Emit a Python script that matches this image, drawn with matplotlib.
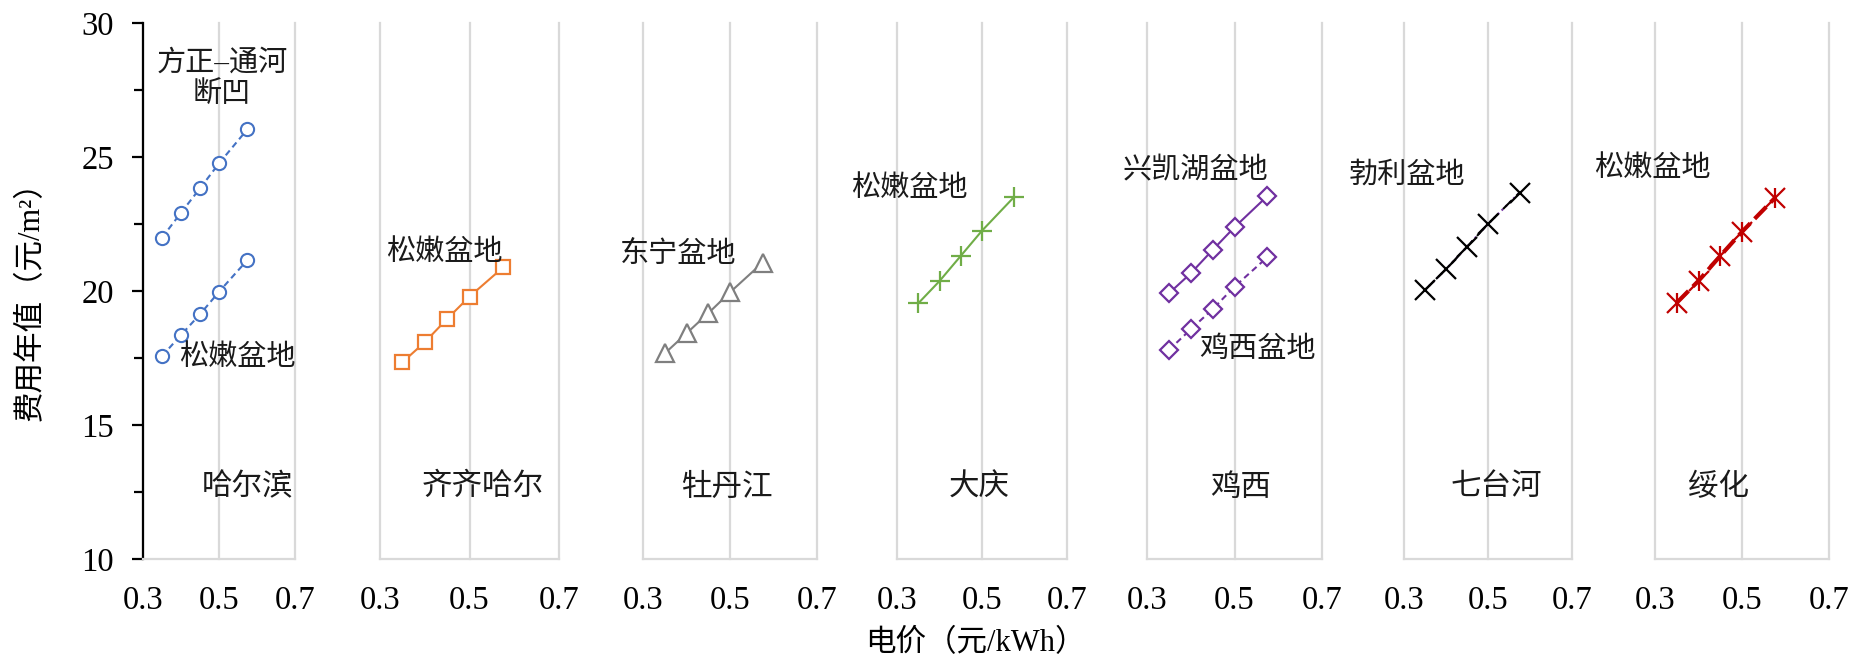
import numpy as np
import matplotlib
matplotlib.use("Agg")
import matplotlib.pyplot as plt

# ============================================================
# DONNÉES
# ============================================================

price = [0.35, 0.40, 0.45, 0.50, 0.575]

harbin_fangzheng = [21.99, 22.92, 23.83, 24.76, 26.04]
harbin_songnen = [17.57, 18.36, 19.13, 19.97, 21.16]
qiqihar_songnen = [17.34, 18.09, 18.96, 19.79, 20.88]
mudanjiang_dongning = [17.67, 18.42, 19.17, 19.95, 21.06]
daqing_songnen = [19.54, 20.37, 21.31, 22.25, 23.50]
jixi_xingkaihu = [19.91, 20.66, 21.53, 22.38, 23.54]
jixi_jixi = [17.80, 18.57, 19.32, 20.16, 21.26]
qitaihe_boli = [20.04, 20.81, 21.65, 22.50, 23.67]
suihua_songnen = [19.56, 20.38, 21.31, 22.21, 23.46]

cities = ["哈尔滨", "齐齐哈尔", "牡丹江", "大庆", "鸡西", "七台河", "绥化"]
x_ticks = [0.3, 0.5, 0.7]
y_ticks = [10, 15, 20, 25, 30]

# ============================================================
# MISE EN PAGE
# ============================================================

W, H = 1872, 660
FONT = ["Liberation Serif", "Noto Sans CJK SC"]
FS = 22
TICK_FS = 23.5
CJK_W = 300
GRID = "#d9d9d9"

# bords des panneaux en pixels (gauche, droite)
panel_px = [(143, 295), (380, 559), (643, 817), (897, 1067),
            (1147, 1322), (1404, 1572), (1655, 1829)]
top_px, bottom_px = 23, 559

# position x du nom de ville (en unités de données)
city_x = [0.574, 0.530, 0.493, 0.493, 0.513, 0.519, 0.447]
city_y = 12.65

plt.rcParams["font.family"] = FONT
plt.rcParams["font.size"] = FS

fig = plt.figure(figsize=(W / 100, H / 100), dpi=100)
axes = []
for (l, r) in panel_px:
    ax = fig.add_axes([l / W, 1 - bottom_px / H, (r - l) / W, (bottom_px - top_px) / H])
    ax.set_xlim(0.3, 0.7)
    ax.set_ylim(10, 30)
    ax.set_xticks(x_ticks)
    ax.set_xticklabels([f"{v:.1f}" for v in x_ticks])
    ax.tick_params(axis="x", length=0, pad=19, labelsize=TICK_FS)
    for s in ["top", "right"]:
        ax.spines[s].set_visible(False)
    ax.spines["bottom"].set_color(GRID)
    ax.spines["bottom"].set_linewidth(1.6)
    for xv in x_ticks:
        ax.axvline(xv, color=GRID, lw=1.6, zorder=0, clip_on=False)
    ax.set_facecolor("none")
    axes.append(ax)

# axe y seulement sur le premier panneau
ax0 = axes[0]
ax0.spines["left"].set_color("black")
ax0.spines["left"].set_linewidth(1.6)
ax0.set_yticks(y_ticks)
ax0.set_yticks([12.5, 17.5, 22.5, 27.5], minor=True)
ax0.tick_params(axis="y", which="major", length=8, width=1.6, pad=13,
                direction="out", labelsize=TICK_FS)
ax0.tick_params(axis="y", which="minor", length=6.5, width=1.6, direction="out")
for ax in axes[1:]:
    ax.spines["left"].set_visible(False)
    ax.tick_params(axis="y", left=False, labelleft=False)

hollow = dict(markerfacecolor="white", clip_on=False)

# Harbin
blue = "#4472c4"
for ys in [harbin_fangzheng, harbin_songnen]:
    axes[0].plot(price, ys, color=blue, lw=1.5, ls=(0, (3, 2)), marker="o",
                 ms=9.5, mew=1.5, **hollow)
# Qiqihar
axes[1].plot(price, qiqihar_songnen, color="#ed7d31", lw=1.5, marker="s",
             ms=10, mew=1.6, **hollow)
# Mudanjiang
axes[2].plot(price, mudanjiang_dongning, color="#7f7f7f", lw=1.5, marker="^",
             ms=13, mew=1.6, **hollow)
# Daqing
axes[3].plot(price, daqing_songnen, color="#70ad47", lw=1.5, marker="+",
             ms=14, mew=1.6, clip_on=False)
# Jixi
purple = "#7030a0"
axes[4].plot(price, jixi_xingkaihu, color=purple, lw=1.5, marker="D",
             ms=9, mew=1.6, **hollow)
axes[4].plot(price, jixi_jixi, color=purple, lw=1.5, ls=(0, (3, 2)), marker="D",
             ms=9, mew=1.6, **hollow)
# Qitaihe
axes[5].plot(price, qitaihe_boli, color=purple, lw=1.5, ls=":", clip_on=False)
axes[5].plot(price, qitaihe_boli, color="black", lw=1.5, ls=(0, (6, 3)),
             marker="x", ms=14, mew=1.6, clip_on=False)
# Suihua
red = "#c00000"
axes[6].plot(price, suihua_songnen, color=red, lw=3, ls=(0, (4, 1.5)),
             marker="x", ms=14, mew=1.6, clip_on=False)
axes[6].plot(price, suihua_songnen, ls="none", color=red, marker="|",
             ms=15, mew=1.6, clip_on=False)

# annotations des bassins
basin_notes = [
    (0, "方正–通河\n断凹", 0.508, 27.9),
    (0, "松嫩盆地", 0.549, 17.5),
    (1, "松嫩盆地", 0.443, 21.42),
    (2, "东宁盆地", 0.380, 21.38),
    (3, "松嫩盆地", 0.328, 23.81),
    (4, "兴凯湖盆地", 0.410, 24.48),
    (4, "鸡西盆地", 0.553, 17.8),
    (5, "勃利盆地", 0.307, 24.33),
    (6, "松嫩盆地", 0.293, 24.55),
]
for i, txt, xx, yy in basin_notes:
    axes[i].text(xx, yy, txt, ha="center", va="center", fontsize=FS - 1,
                 fontweight=CJK_W, linespacing=1.25, color="#1a1a1a", clip_on=False)

for ax, name, cx in zip(axes, cities, city_x):
    ax.text(cx, city_y, name, ha="center", va="center", fontsize=FS,
            fontweight=CJK_W, color="#1a1a1a")

fig.text(31 / W, 1 - 294 / H, "费用年值（元/m²）", rotation=90, ha="center",
         va="center", fontsize=FS, fontweight=CJK_W)
fig.text(975 / W, 1 - 644 / H, "电价（元/kWh）", ha="center", va="center",
         fontsize=FS, fontweight=CJK_W)

fig.savefig("out.png", dpi=100)
